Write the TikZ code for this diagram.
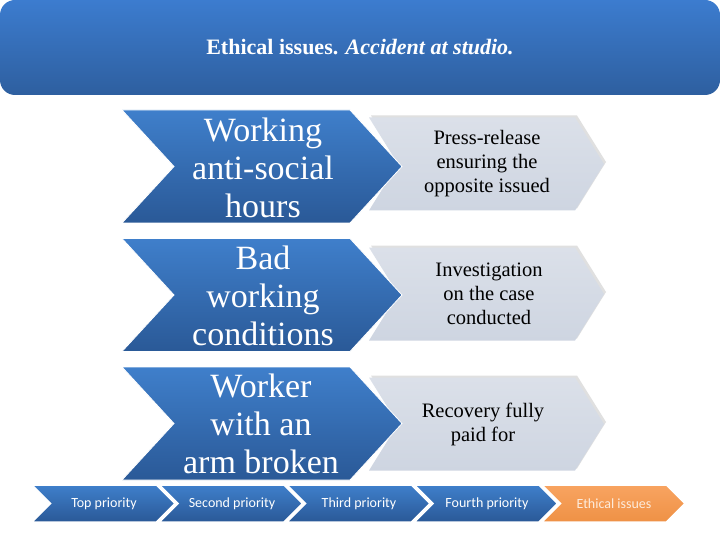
\documentclass[tikz,border=0pt]{standalone}
\usepackage{fontspec}
\setmainfont{Liberation Serif}
\newfontfamily\calib{Carlito}
\definecolor{bartop}{HTML}{3C7CCF}
\definecolor{barbot}{HTML}{2E5F9F}
\definecolor{bltop}{HTML}{3F7FCB}
\definecolor{blbot}{HTML}{2A5997}
\definecolor{grtop}{HTML}{DBE0E9}
\definecolor{grbot}{HTML}{CED5E1}
\definecolor{ortop}{HTML}{F8A461}
\definecolor{orbot}{HTML}{EF9145}
\definecolor{ortext}{HTML}{FDEBDB}
\tikzset{
  bluechev/.style={top color=bltop,bottom color=blbot,draw=white,line width=0.8pt,line join=miter},
  greychev/.style={top color=grtop,bottom color=grbot,draw=none},
  greyshadow/.style={fill=black!12,draw=none},
  smallblue/.style={top color=bltop,bottom color=blbot,draw=white,line width=1.5pt,line join=miter},
  smallorange/.style={top color=ortop,bottom color=orbot,draw=white,line width=1.5pt,line join=miter},
  bigtext/.style={text=white,align=center,font=\rmfamily\fontsize{34}{38}\selectfont,inner sep=0pt},
  greytext/.style={text=black,align=center,font=\rmfamily\fontsize{20.5}{24}\selectfont,inner sep=0pt},
  steptext/.style={text=white,font=\calib\fontsize{14}{16}\selectfont,inner sep=0pt},
}
% chevron: style, left x, center y, half height, depth, point x
\newcommand\mychev[6]{%
  \path[#1] (#2,-#3+#4) -- (#6-#5,-#3+#4) -- (#6,-#3) -- (#6-#5,-#3-#4) -- (#2,-#3-#4) -- (#2+#5,-#3) -- cycle;}
\begin{document}
\begin{tikzpicture}[x=1pt,y=1pt]
\useasboundingbox (0,0) rectangle (720,-540);
\fill[white] (0,0) rectangle (720,-540);
% title bar
\path[top color=bartop,bottom color=barbot,rounded corners=15pt] (0,0) rectangle (720,-95);
\node[text=white,font=\rmfamily\bfseries\fontsize{22}{26}\selectfont] (title) at (360,-47) {Ethical issues. \textit{Accident at studio.}};
% grey chevrons (shadows then shapes)
\foreach \yc in {164,294,424}{
  \mychev{greyshadow}{371}{\yc+2}{46.5}{29}{606}
  \mychev{greychev}{369}{\yc}{46.5}{29}{604}
}
% blue chevrons
\foreach \yc in {166.5,295,423.5}{
  \mychev{bluechev}{122}{\yc}{56.5}{52}{402}
}
\node[bigtext] (b1) at (263,-168) {Working\\anti-social\\hours};
\node[bigtext] (b2) at (263,-296) {Bad\\working\\conditions};
\node[bigtext] (b3) at (261,-424) {Worker\\with an\\arm broken};
\node[greytext] (g1) at (487,-164) {Press-release\\ensuring the\\opposite issued};
\node[greytext] (g2) at (489,-294) {Investigation\\on the case\\conducted};
\node[greytext] (g3) at (483,-424) {Recovery fully\\paid for};
% bottom row
\foreach \i in {0,1,2,3}{
  \pgfmathsetmacro\xa{32+127.5*\i}
  \pgfmathsetmacro\xb{\xa+143}
  \mychev{smallblue}{\xa}{503.5}{18.5}{18.5}{\xb}
}
\mychev{smallorange}{542}{503.5}{18.5}{18.5}{685}
\node[steptext] (s1) at (104,-503.5) {Top priority};
\node[steptext] (s2) at (232,-503.5) {Second priority};
\node[steptext] (s3) at (359,-503.5) {Third priority};
\node[steptext] (s4) at (487,-503.5) {Fourth priority};
\node[steptext,text=ortext] (s5) at (614,-503.5) {Ethical issues};
\end{tikzpicture}
\end{document}
